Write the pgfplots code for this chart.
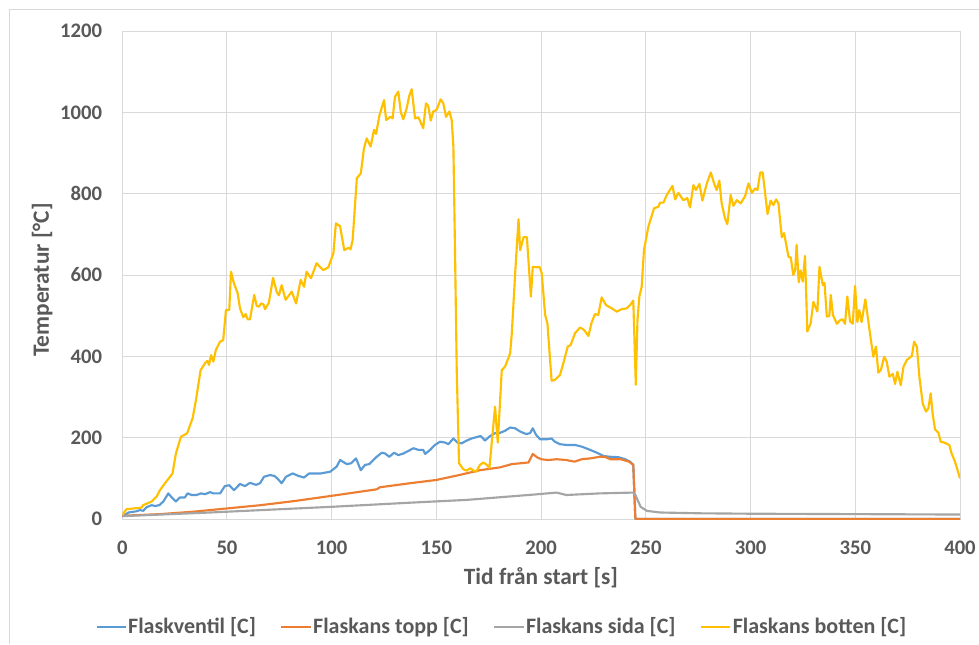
\documentclass[border=0pt]{standalone}
\usepackage{fontspec}
\setmainfont{Carlito}
\usepackage{pgfplots}
\pgfplotsset{compat=1.18}
\definecolor{cBlue}{HTML}{5B9BD5}
\definecolor{cOrange}{HTML}{ED7D31}
\definecolor{cGray}{HTML}{A5A5A5}
\definecolor{cYellow}{HTML}{FFC000}
\definecolor{cText}{HTML}{595959}
\definecolor{cGrid}{HTML}{D9D9D9}
\begin{document}
\begin{tikzpicture}
\path[use as bounding box] (0pt,0pt) rectangle (734.25pt,483pt);
\fill[white] (0pt,0pt) rectangle (734.25pt,483pt);
\draw[cGrid, line width=0.75pt] (7.1pt,0pt) -- (7.1pt,475.5pt) -- (734.25pt,475.5pt);
\begin{axis}[
  at={(91.7pt,93.75pt)}, anchor=south west,
  scale only axis, width=628.3pt, height=366pt,
  xmin=0, xmax=400, ymin=0, ymax=1200,
  xtick={0,50,...,400}, ytick={0,200,...,1200},
  major tick length=0pt,
  grid=major, grid style={cGrid, line width=0.75pt},
  axis line style={cGrid, line width=0.75pt},
  /pgf/number format/assume math mode=true,
  tick label style={font=\fontsize{15.5}{18}\selectfont\bfseries, text=cText, inner sep=0pt},
  xticklabel style={anchor=center, yshift=-21.75pt},
  yticklabel style={anchor=east, xshift=-15pt},
  /pgf/number format/1000 sep={},
  xlabel={Tid från start [s]},
  ylabel={Temperatur [°C]},
  label style={font=\fontsize{17.5}{20}\selectfont\bfseries, text=cText},
  xlabel style={at={(axis description cs:0.4998,-0.1209)}, anchor=center},
  ylabel style={at={(axis description cs:-0.0955,0.4898)}, anchor=center},
  legend columns=4,
  legend style={at={(axis description cs:0.4527,-0.221)}, anchor=center, draw=none, fill=none,
    font=\fontsize{16.5}{19}\selectfont\bfseries, text=cText,
    inner sep=0pt,
    nodes={inner xsep=1pt, inner ysep=0pt},
    /tikz/every even column/.append style={column sep=17.3pt}},
  legend image code/.code={\draw[#1, line width=1.6pt] (0pt,0pt) -- (22pt,0pt);},
  every axis plot/.append style={line width=1.6pt, mark=none, line join=round},
]
\addplot[cBlue] coordinates {
(0,6) (3,16) (6.8,19) (8.4,22) (10,20) (11.6,29) (14,34) (15.6,32) (17.7,34) (19.6,43)
(22,63) (23.6,53) (25.6,43) (27.5,53) (29.9,53) (31.2,63) (33.1,59) (35.5,59) (37.6,63)
(39.5,61) (41.9,66) (43.5,63) (46.7,63) (49,81) (51.1,83) (53.3,71) (56.2,86) (58.6,81)
(61,89) (63.9,84) (65.8,88) (67.7,104) (70.5,108) (72.6,106) (74,100) (76.1,88) (78.2,104)
(81.4,112) (84.1,106) (86.8,102) (89.2,112) (92,112) (94.7,112) (96.8,114) (99.2,116)
(102.4,129) (104,145) (107.2,135) (109.2,137) (111.6,149) (113.9,120) (115.9,133) (118,135)
(119.9,145) (121.5,153) (123.9,163) (125.5,161) (127.5,153) (129.8,163) (131.8,157)
(134.2,161) (136.1,166) (139,174) (141.4,170) (143.7,170) (144.6,160) (147,170) (149.3,182)
(151.7,190) (154.1,188) (155.7,184) (158.1,198) (160,188) (162,186) (164.5,193) (166.8,198)
(168.9,201) (171.1,204) (173.2,193) (175.6,204) (178,211) (180.4,212) (182.8,217)
(185.2,225) (187.6,223) (190,215) (192.8,209) (194.7,211) (196,223) (197.6,207) (199.5,196)
(202.7,196) (205,198) (206.6,190) (209,184) (212.2,182) (216.2,182) (219.4,178) (223.4,170)
(226.6,163) (229.7,155) (232.9,153) (236.9,152) (240.1,147) (242.5,141) (244,133)
(245,0) (400,0)
};
\addlegendentry{Flaskventil [C]}
\addplot[cOrange] coordinates {
(0,8) (18,12) (34,18) (50,26) (66,34) (82,44) (100,57) (121.5,73) (123,78) (137.4,88)
(150,96) (160.8,108) (170.8,120) (180.4,127) (186,135) (194,139) (196,160) (198,152)
(200,147) (203.4,145) (207.4,147) (212,145) (216,141) (219.4,147) (223.4,149) (228,153)
(230.4,153) (233,147) (238,147) (242,141) (244,133) (245,0) (400,0)
};
\addlegendentry{Flaskans topp [C]}
\addplot[cGray] coordinates {
(0,7) (42,16) (100,30) (137,40) (164.5,47) (196.3,60) (207.4,65) (212,59) (228,63)
(244,65) (245,59) (247.5,30) (250.5,20) (256.8,16) (276,14) (300,13) (350,12) (400,11)
};
\addlegendentry{Flaskans sida [C]}
\addplot[cYellow] coordinates {
(0,10) (2,24) (9.2,28) (10,34) (14,43) (16.4,55) (18,71) (20.4,88) (24,112) (25.6,161)
(28,202) (31,211) (33.6,248) (35.2,293) (37.4,366) (39.5,383) (40.6,389) (41.4,379)
(42.4,403) (43.5,387) (44.7,416) (46.7,436) (48.2,440) (49.5,514) (51.1,514) (51.9,608)
(53.3,580) (55.1,555) (56.2,518) (57.8,496) (58.9,504) (59.9,491) (61,491) (63,551)
(64.2,524) (65.3,522) (66.2,530) (67.4,528) (68.2,516) (70,532) (72,593) (73.7,559)
(74.8,550) (76.1,575) (78,539) (80.9,559) (83,530) (85.2,588) (86.8,571) (88,608)
(90.1,592) (92.8,629) (94.4,620) (96,612) (98.4,619) (100.8,653) (102,727) (104,720)
(106,661) (108,667) (109,663) (110,686) (112,838) (113.9,850) (115.4,911) (116.7,936)
(118.6,916) (120.2,957) (121.2,947) (122.8,993) (125,1030) (126,981) (128,989) (129.1,985)
(130.2,1038) (131.8,1051) (133,1000) (134.2,983) (135.8,1010) (137,1040) (138.2,1057)
(139.8,985) (141.4,988) (143.7,961) (145,1022) (146.1,1016) (147.3,980) (148.5,1002)
(150.1,1006) (152,1032) (153.3,1022) (154.6,989) (156.2,1002) (157.3,981) (158.1,916)
(158.9,653) (159.7,366) (160.8,137) (162.9,122) (164.5,119) (166.1,125) (167.4,120)
(169,116) (170.8,133) (172.4,139) (174.1,133) (175.3,125) (178,276) (179.3,188) (181.2,366)
(182.8,375) (185.2,407) (186,457) (187.6,604) (189.2,737) (190,661) (191.6,693) (193.2,693)
(195.1,547) (196,620) (198,619) (199.2,620) (200.3,604) (201.9,502) (203,481) (205,340)
(206.6,342) (209,354) (210.6,383) (212.7,424) (214.1,428) (216.2,457) (218.6,471)
(220.5,465) (222.6,450) (224.1,483) (225.7,504) (227.3,502) (228.9,545) (231,526)
(233.7,518) (236.1,510) (238.5,516) (240.9,518) (242.5,526) (244,537) (245.2,330)
(246,489) (246.9,547) (248,571) (249.1,661) (251.2,719) (253.9,764) (256,768) (256.8,778)
(258.4,778) (260,797) (262.7,819) (264,786) (265.5,802) (267.9,784) (269.8,789) (271.1,766)
(272.7,821) (273.9,809) (275.6,824) (277,783) (279.1,825) (281,852) (282.6,825) (283.8,809)
(285.1,832) (286.2,776) (287.8,739) (288.9,725) (290.5,797) (291.8,770) (293.4,784)
(295.3,776) (297.4,794) (299,825) (300.6,802) (302.2,813) (303.3,809) (304.6,852)
(305.8,852) (308.1,750) (309.6,783) (310.9,772) (312.2,786) (313.3,776) (314.9,693)
(316,703) (318.1,645) (319.2,643) (320.4,600) (321.3,612) (322,674) (323,582) (323.9,611)
(324.9,584) (326,647) (327.1,461) (328.7,481) (330,534) (331.9,510) (332.9,620) (334.5,575)
(335.3,581) (336.4,498) (337.6,499) (338.3,551) (339.3,502) (341.2,480) (342.8,489)
(343.9,491) (345.1,480) (346.2,547) (347.5,486) (348.8,480) (349.9,573) (351,484)
(351.9,514) (353,484) (354.8,540) (357,457) (358.6,399) (359.9,424) (361,360) (362.2,366)
(363.8,399) (365,387) (366.3,350) (367.9,357) (369,332) (370.1,362) (371.7,329) (373,374)
(374.6,391) (377,401) (378.1,436) (379.4,424) (380.6,350) (382.2,284) (383.8,264)
(384.9,272) (386,309) (387,256) (388.1,220) (389.7,212) (390.8,190) (392.4,188) (394.9,182)
(396,161) (397.6,141) (400,100)
};
\addlegendentry{Flaskans botten [C]}
\end{axis}
\end{tikzpicture}
\end{document}
